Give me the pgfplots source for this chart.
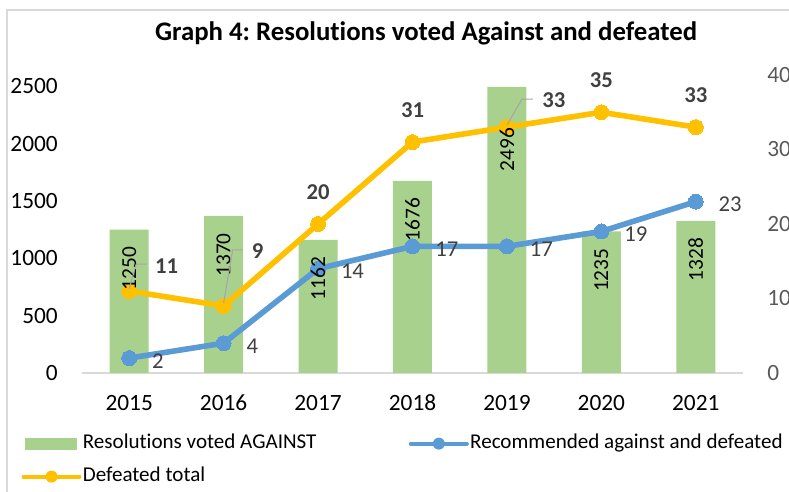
\documentclass[border=0pt]{standalone}
\usepackage{fontspec}
\setmainfont{Carlito}[Ligatures={NoCommon}]
\usepackage{pgfplots}
\pgfplotsset{compat=1.18}
\frenchspacing
\definecolor{cbar}{HTML}{A9D18E}
\definecolor{cblue}{HTML}{5B9BD5}
\definecolor{corange}{HTML}{FFC000}
\definecolor{cframe}{HTML}{D9D9D9}
\definecolor{caxis}{HTML}{D9D9D9}
\definecolor{clab}{HTML}{404040}
\definecolor{cright}{HTML}{595959}
\definecolor{clead}{HTML}{A6A6A6}
\begin{document}
\begin{tikzpicture}[x=0.75pt,y=0.75pt]
\useasboundingbox (0,0) rectangle (789,492);
\clip (0,0) rectangle (789,492);
\draw[cframe, line width=1.2pt] (7,-5) -- (7,482) -- (800,482);
\node[font=\fontsize{20.1}{24}\selectfont\bfseries] at (426,459) {Graph 4: Resolutions voted Against and defeated};
% ---------- left axis: bars ----------
\begin{axis}[
  at={(61.5pt,89.25pt)}, anchor=south west,
  scale only axis, width=495.75pt, height=223.5pt,
  xmin=-0.5, xmax=6.5, ymin=0, ymax=2600,
  xtick={0,1,2,3,4,5,6},
  xticklabels={2015,2016,2017,2018,2019,2020,2021},
  ytick={0,500,1000,1500,2000,2500},
  axis x line*=bottom, axis y line*=left,
  x axis line style={draw=caxis, line width=1.1pt, -},
  y axis line style={draw=none},
  major tick length=0pt, tick style={draw=none},
  xticklabel style={font=\fontsize{17.5}{20}\selectfont, anchor=center, yshift=-22.5pt, inner sep=0pt},
  yticklabel style={font=\fontsize{17.5}{20}\selectfont, anchor=east, xshift=-18pt, inner sep=0pt},
  /pgf/number format/assume math mode=true,
  /pgf/number format/1000 sep={},
  ybar, bar width=29.25pt,
  clip=false,
]
\addplot[fill=cbar, draw=none] coordinates {(0,1250) (1,1370) (2,1162) (3,1676) (4,2496) (5,1235) (6,1328)};
\end{axis}
% ---------- right axis: lines ----------
\begin{axis}[
  at={(61.5pt,89.25pt)}, anchor=south west,
  scale only axis, width=495.75pt, height=223.5pt,
  xmin=-0.5, xmax=6.5, ymin=0, ymax=40,
  axis x line=none, axis y line*=right,
  y axis line style={draw=none},
  ytick={0,10,20,30,40},
  major tick length=0pt, tick style={draw=none},
  yticklabel style={font=\fontsize{17.5}{20}\selectfont, color=cright, anchor=west, xshift=18pt, inner sep=0pt},
  /pgf/number format/assume math mode=true,
  clip=false,
  legend columns=2, legend cell align=left,
  legend style={at={(axis description cs:-0.0915,-0.2057)}, anchor=north west,
    draw=none, fill=none, inner sep=0pt, outer sep=0pt,
    row sep=10.75pt, column sep=0pt,
    font=\fontsize{15.8}{18}\selectfont,
    nodes={inner sep=0pt, text height=11pt, text depth=3pt},
    /tikz/every odd column/.append style={column sep=1pt}},
]
\addlegendimage{legend image code/.code={\path[fill=cbar, draw=none] (0pt,-4.5pt) rectangle (39pt,4.5pt);}}
\addlegendentry{\makebox[244.5pt][l]{Resolutions voted AGAINST}}
\addplot[cblue, line width=4.2pt, line join=round, line cap=round, mark=*, mark size=5.6pt,
  mark options={solid, fill=cblue, draw=cblue, line width=0pt},
  legend image code/.code={\draw[cblue, line width=3pt] (-0.75pt,0pt) -- (41.25pt,0pt); \path[fill=cblue, draw=none] (20.25pt,0pt) circle (4.5pt);}]
  coordinates {(0,2) (1,4) (2,14) (3,17) (4,17) (5,19) (6,23)};
\addlegendentry{Recommended against and defeated}
\addplot[corange, line width=4.2pt, line join=round, line cap=round, mark=*, mark size=5.6pt,
  mark options={solid, fill=corange, draw=corange, line width=0pt},
  legend image code/.code={\draw[corange, line width=3pt] (-0.75pt,0pt) -- (41.25pt,0pt); \path[fill=corange, draw=none] (20.25pt,0pt) circle (4.5pt);}]
  coordinates {(0,11) (1,9) (2,20) (3,31) (4,33) (5,35) (6,33)};
\addlegendentry{Defeated total}
\end{axis}
% ---------- labels on top ----------
\begin{axis}[
  at={(61.5pt,89.25pt)}, anchor=south west,
  scale only axis, width=495.75pt, height=223.5pt,
  xmin=-0.5, xmax=6.5, ymin=0, ymax=40,
  hide axis, clip=false,
]
% bar value labels (positions in right-axis units: value/65)
\begin{scope}[every node/.style={rotate=90, anchor=east, inner sep=0pt, font=\fontsize{16}{18}\selectfont}]
\node at ([yshift=-12.75pt]axis cs:0,19.2308) {1250};
\node at ([yshift=-12.75pt]axis cs:1,21.0769) {1370};
\node at ([yshift=-12.75pt]axis cs:2,17.8769) {1162};
\node at ([yshift=-12.75pt]axis cs:3,25.7846) {1676};
\node at ([yshift=-30.75pt]axis cs:4,38.4) {2496};
\node at ([yshift=-12.75pt]axis cs:5,19) {1235};
\node at ([yshift=-12.75pt]axis cs:6,20.4308) {1328};
\end{scope}
% leader lines
\draw[clead, line width=0.8pt] ([yshift=1.5pt]axis cs:0,11) -- ([xshift=5.25pt,yshift=20.25pt]axis cs:0,11) -- ([xshift=13.5pt,yshift=20.25pt]axis cs:0,11);
\draw[clead, line width=0.8pt] ([yshift=2.25pt]axis cs:1,9) -- ([xshift=6.75pt,yshift=42pt]axis cs:1,9) -- ([xshift=14.25pt,yshift=42pt]axis cs:1,9);
\draw[clead, line width=0.8pt] ([yshift=1.5pt]axis cs:4,33) -- ([xshift=11.25pt,yshift=21pt]axis cs:4,33) -- ([xshift=19.5pt,yshift=21pt]axis cs:4,33);
% orange labels
\begin{scope}[every node/.style={inner sep=0pt, text=clab, font=\fontsize{17}{20}\selectfont\bfseries}]
\node at ([xshift=28.1pt,yshift=18.75pt]axis cs:0,11) {11};
\node at ([xshift=25.5pt,yshift=41.25pt]axis cs:1,9) {9};
\node at ([yshift=24pt]axis cs:2,20) {20};
\node at ([yshift=24pt]axis cs:3,31) {31};
\node at ([xshift=35.25pt,yshift=20.25pt]axis cs:4,33) {33};
\node at ([yshift=24pt]axis cs:5,35) {35};
\node at ([yshift=24pt]axis cs:6,33) {33};
\end{scope}
% blue labels
\begin{scope}[every node/.style={inner sep=0pt, anchor=west, text=clab, font=\fontsize{17}{20}\selectfont}]
\node at ([xshift=17pt,yshift=-2pt]axis cs:0,2) {2};
\node at ([xshift=17pt,yshift=-2pt]axis cs:1,4) {4};
\node at ([xshift=17pt,yshift=-2pt]axis cs:2,14) {14};
\node at ([xshift=17pt,yshift=-2pt]axis cs:3,17) {17};
\node at ([xshift=17pt,yshift=-2pt]axis cs:4,17) {17};
\node at ([xshift=17pt,yshift=-2pt]axis cs:5,19) {19};
\node at ([xshift=17pt,yshift=-2pt]axis cs:6,23) {23};
\end{scope}
\end{axis}
\end{tikzpicture}
\end{document}
